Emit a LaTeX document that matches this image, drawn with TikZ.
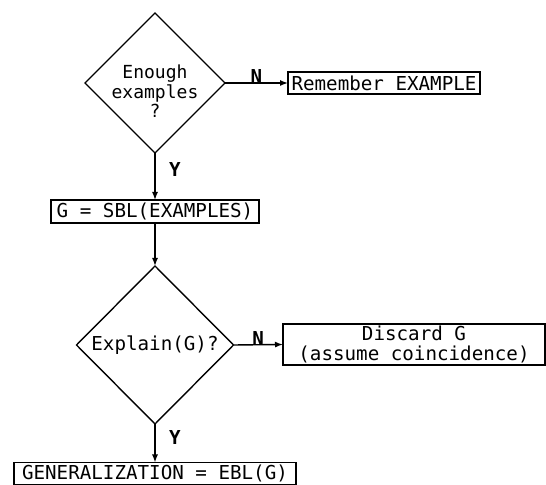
\documentclass[tikz,border=0pt]{standalone}
\usepackage{fontspec}
\setmonofont{DejaVu Sans Mono}
\usetikzlibrary{shapes.geometric,arrows.meta,positioning}

\begin{document}
\begin{tikzpicture}[x=0.5pt,y=-0.5pt,every node/.style={outer sep=0pt,inner sep=1pt,font=\ttfamily\fontsize{9.6}{10}\selectfont}]
\tikzstyle{decision}=[draw,line width=0.7pt,shape=diamond,aspect=1,inner sep=0pt,align=center]
\tikzstyle{process}=[draw,line width=0.7pt,shape=rectangle,align=center]
\tikzstyle{flow}=[line width=0.7pt,-{Latex[length=4pt,width=3pt]}]
\tikzstyle{answer}=[font=\ttfamily\bfseries\fontsize{9.6}{10}\selectfont,inner sep=0pt]

\useasboundingbox (0,0) rectangle (546,485);

\node (enough) [decision, minimum width=70pt, minimum height=70pt,
  label={[align=center,yshift=-4pt,font=\ttfamily\fontsize{9}{8}\selectfont]center:Enough\\examples\\?}] at (155,83) {};
\node (remember) [process, minimum width=96pt, minimum height=11pt] at (384,83) {Remember EXAMPLE};
\node (sbl) [process, minimum width=104pt, minimum height=11.5pt] at (155,211.5) {G = SBL(EXAMPLES)};
\node (explain) [decision, minimum width=78.5pt, minimum height=79pt] at (155,345) {Explain(G)?};
\node (discard) [process, minimum width=131pt, minimum height=20.5pt] at (414,344.5) {Discard G\\(assume coincidence)};
\node (gen) [process, minimum width=141pt, minimum height=11pt] at (155,473.5) {GENERALIZATION = EBL(G)};

\draw [flow] (enough.east) -- (remember.west) node [answer, midway, above, yshift=-0.5pt] {N};
\draw [flow] (enough.south) -- (sbl.north) node [answer, pos=0.35, right=7pt] {Y};
\draw [flow] (sbl.south) -- (explain.north);
\draw [flow] (explain.east) -- (discard.west) node [answer, midway, above, yshift=-0.5pt] {N};
\draw [flow] (explain.south) -- (gen.north) node [answer, pos=0.35, right=7pt] {Y};
\end{tikzpicture}
\end{document}
